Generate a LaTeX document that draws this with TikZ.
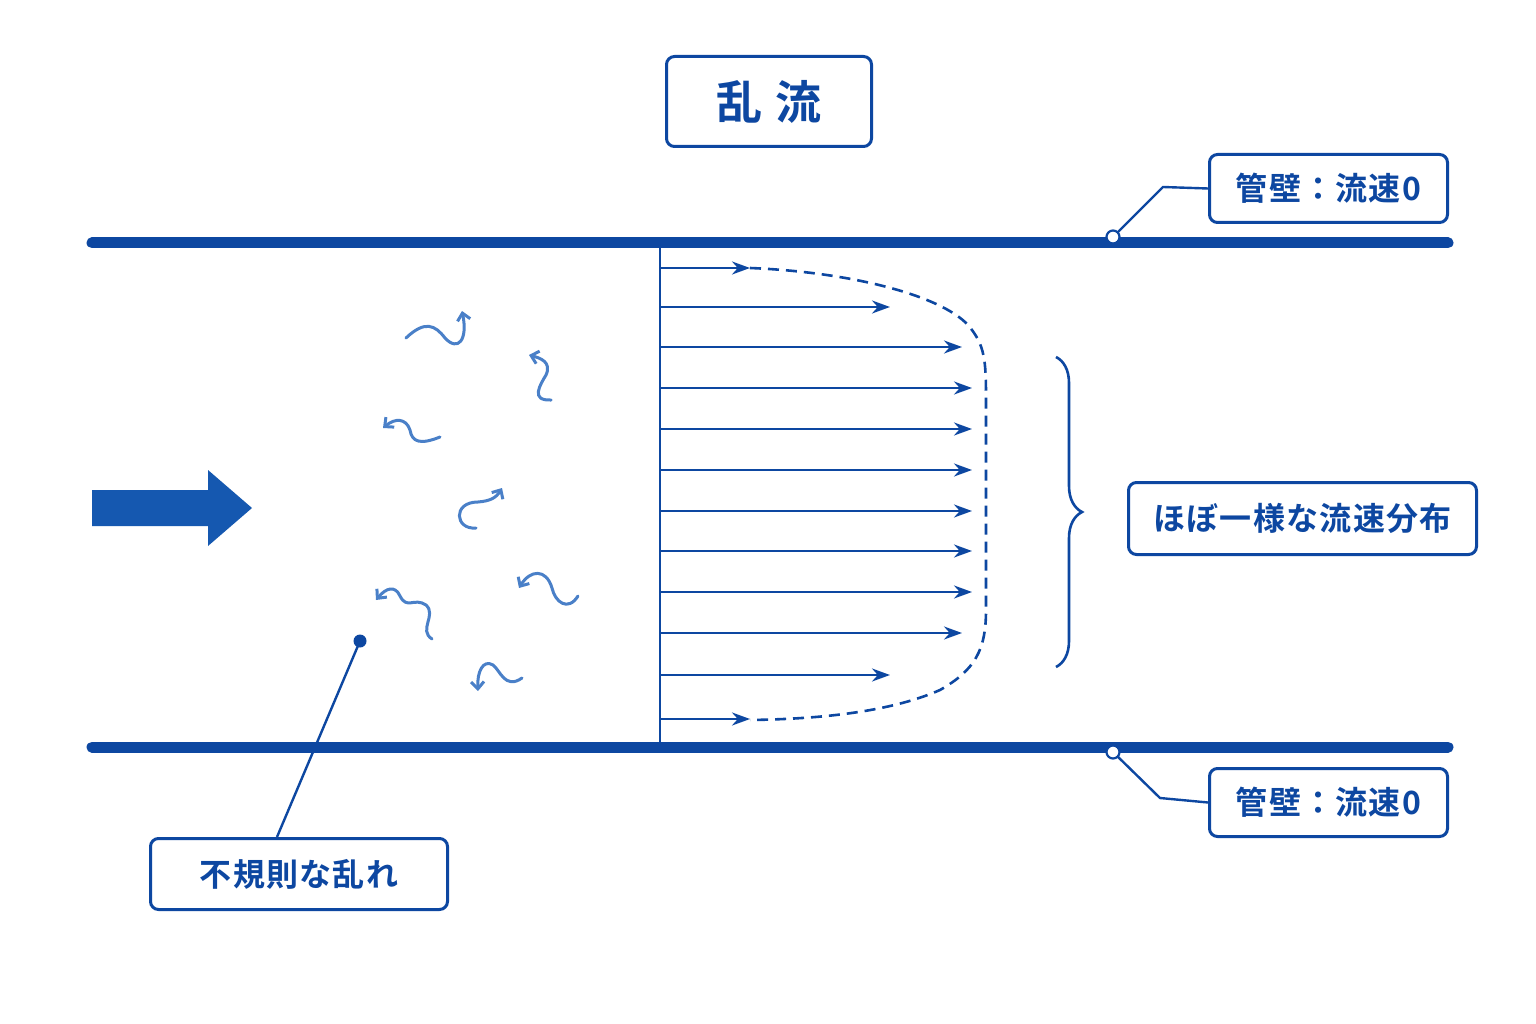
\documentclass[tikz,border=0pt]{standalone}
\usepackage{fontspec}
\newfontfamily\cjk{Noto Sans CJK JP}[BoldFont={* Bold},LetterSpace=4]
\usetikzlibrary{arrows.meta,decorations.pathreplacing}
\definecolor{dblue}{HTML}{0D47A1}
\definecolor{lblue}{HTML}{4A80C8}
\definecolor{ablue}{HTML}{1558B0}
\begin{document}
\begin{tikzpicture}[x=1pt,y=-1pt,
 lbl/.style={draw=dblue,line width=3pt,rounded corners=8pt,text=dblue,font=\cjk\bfseries\fontsize{32}{32}\selectfont,inner sep=0pt,anchor=north west},
 vel/.style={dblue,line width=2.6pt,-{Stealth[length=18pt,width=13pt]}},
 sq/.style={lblue,line width=3pt,line cap=round,-{Straight Barb[length=7pt,width=13pt]}},
 lead/.style={dblue,line width=2.4pt}]
\useasboundingbox (0,0) rectangle (1536,1024);
\fill[white] (0,0) rectangle (1536,1024);
% title
\node[lbl,minimum width=205pt,minimum height=90pt,font=\cjk\bfseries\fontsize{46}{46}\selectfont] (title) at (665,55) {乱 流};
% walls
\draw[dblue,line width=11pt,line cap=round] (92,243) coordinate (tw1) -- (1448,243) coordinate (tw2);
\draw[dblue,line width=11pt,line cap=round] (92,747) coordinate (bw1) -- (1448,747) coordinate (bw2);
% inflow arrow
\fill[ablue] (92,490) -- (208,490) -- (208,470) -- (252,508) -- (208,546) -- (208,526) -- (92,526) -- cycle;
% velocity profile
\draw[dblue,line width=2.6pt] (660,243) coordinate (vt) -- (660,742) coordinate (vb);
\foreach \y/\l in {268/750,307/890,347/962,388/972,429/972,470/972,511/972,551/972,592/972,633/962,675/890,719/750}
  \draw[vel] (660,\y) -- (\l,\y);
\draw[dblue,line width=2.6pt,dash pattern=on 11pt off 7pt] (750,268) .. controls (850,272) and (940,295) .. (968,325) .. controls (985,345) and (986,360) .. (986,400) -- (986,610) .. controls (986,650) and (975,670) .. (940,690) .. controls (890,712) and (820,719) .. (750,720);
% squiggles
\draw[sq] (406,338) .. controls (425,320) and (435,325) .. (445,338) .. controls (458,352) and (468,340) .. (462,311);
\draw[sq] (551,400) .. controls (530,401) and (540,385) .. (546,375) .. controls (552,362) and (540,358) .. (529,355);
\draw[sq] (440,437) .. controls (420,445) and (412,442) .. (410,430) .. controls (406,418) and (395,418) .. (383,428);
\draw[sq] (476,528) .. controls (455,530) and (452,502) .. (478,502) .. controls (490,501) and (496,498) .. (502,488);
\draw[sq] (578,596) .. controls (568,612) and (555,602) .. (552,588) .. controls (546,568) and (530,570) .. (519,588);
\draw[sq] (432,639) .. controls (418,630) and (437,615) .. (426,605) .. controls (414,597) and (407,610) .. (400,596) .. controls (395,585) and (386,588) .. (376,600);
\draw[sq] (522,678) .. controls (505,690) and (500,670) .. (493,665) .. controls (483,659) and (477,672) .. (478,691);
% wall labels
\node[lbl,minimum width=238pt,minimum height=68pt] (wtop) at (1208,153) {管壁：流速0};
\node[lbl,minimum width=238pt,minimum height=68pt] (wbot) at (1208,767) {管壁：流速0};
\coordinate (pt) at (1113,237); \coordinate (pb) at (1113,752);
\draw[lead] (pt) -- (1163,187) -- (wtop.west);
\draw[lead] (pb) -- (1160,798) -- (wbot.west);
\filldraw[fill=white,draw=dblue,line width=2.2pt] (pt) circle (6.5pt);
\filldraw[fill=white,draw=dblue,line width=2.2pt] (pb) circle (6.5pt);
% brace
\draw[dblue,line width=2.6pt,decorate,decoration={brace,amplitude=26pt,aspect=0.5}] (1056,357) coordinate (b1) -- (1056,667) coordinate (b2);
\node[lbl,minimum width=348pt,minimum height=72pt] (uni) at (1127,481) {ほぼ一様な流速分布};
% irregular
\node[lbl,minimum width=297pt,minimum height=71pt] (irr) at (149,837) {不規則な乱れ};
\coordinate (dot) at (360,641);
\draw[lead] (dot) -- (277,837);
\fill[dblue] (dot) circle (6.5pt);
\end{tikzpicture}
\end{document}
